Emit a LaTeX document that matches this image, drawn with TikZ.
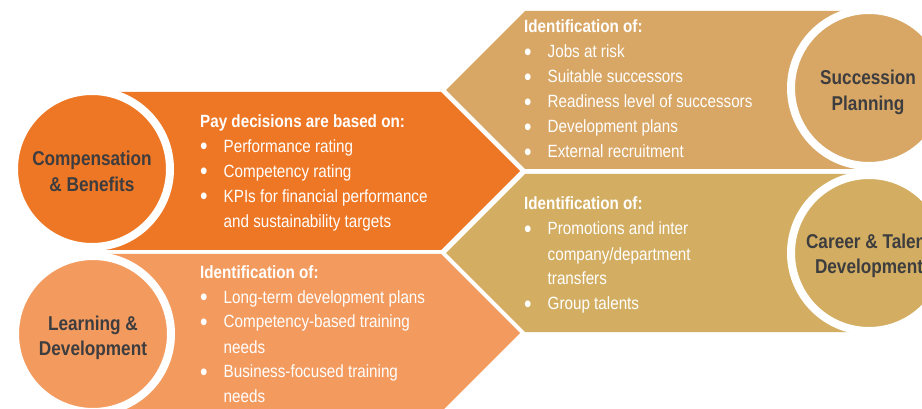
\documentclass[tikz,border=0pt]{standalone}
\usepackage{graphicx}
\usepackage{fontspec}
\setmainfont{Liberation Sans}[FakeStretch=0.86]
\definecolor{cbc}{HTML}{EE7725}
\definecolor{ldc}{HTML}{F39B5F}
\definecolor{spc}{HTML}{D9A765}
\definecolor{ctc}{HTML}{D3AE62}
\definecolor{lblc}{HTML}{3D3D3F}
\newcommand\blk[1]{\vtop{\baselineskip=25pt\lineskiplimit=-\maxdimen\lineskip=0pt #1}}
\newcommand\bl[1]{\hbox{\makebox[23.5pt][l]{\raisebox{-2.3pt}{\scalebox{1.4}{\textbullet}}}#1}}
\newcommand\cl[1]{\hbox{\hspace{23.5pt}#1}}
\newcommand\hd[1]{\hbox{\bfseries #1}}
\newcommand\ctr[2]{\vtop{\baselineskip=25.5pt\lineskiplimit=-\maxdimen\lineskip=0pt\hbox to 0pt{\hss#1\hss}\hbox to 0pt{\hss#2\hss}}}
\begin{document}
\begin{tikzpicture}[x=1pt,y=-1pt,
  ring/.style={circle, draw=white, line width=8pt, minimum size=156pt, inner sep=0pt},
  lbl/.style={anchor=base, inner sep=0pt, font=\fontsize{20}{25.5}\selectfont\bfseries, text=lblc},
  txt/.style={anchor=base west, inner sep=0pt, font=\fontsize{17.7}{25}\selectfont, text=white}]
\clip (0,0) rectangle (922,409);
\fill[white] (0,0) rectangle (922,409);
% arrow bands
\fill[cbc] (92,92) -- (441,92) -- (520,171) -- (441,250) -- (92,250) -- cycle;
\fill[ldc] (93,254) -- (441,254) -- (520,333) -- (441,412) -- (93,412) -- cycle;
\fill[spc] (869,11) -- (525,11) -- (446,90) -- (525,169) -- (869,169) -- cycle;
\fill[ctc] (869,174) -- (525,174) -- (446,253) -- (525,332) -- (869,332) -- cycle;
% circles
\node[ring, fill=cbc] (cbcirc) at (92,169) {};
\node[ring, fill=ldc] (ldcirc) at (93,334) {};
\node[ring, fill=spc] (spcirc) at (869,88) {};
\node[ring, fill=ctc] (ctcirc) at (869,253) {};
% circle labels
\node[lbl] (cbl) at (92,166) {\ctr{Compensation}{\& Benefits}};
\node[lbl] (ldl) at (93,330) {\ctr{Learning \&}{Development}};
\node[lbl] (spl) at (868,85) {\ctr{Succession}{Planning}};
\node[lbl] (ctl) at (869,248) {\ctr{Career \& Talent}{Development}};
% texts
\node[txt] (cbt) at (200,127.7) {\blk{\hd{Pay decisions are based on:}\bl{Performance rating}\bl{Competency rating}\bl{KPIs for financial performance}\cl{and sustainability targets}}};
\node[txt] (ldt) at (200,278) {\blk{\hd{Identification of:}\bl{Long-term development plans}\bl{Competency-based training}\cl{needs}\bl{Business-focused training}\cl{needs}}};
\node[txt] (spt) at (524,33) {\blk{\hd{Identification of:}\bl{Jobs at risk}\bl{Suitable successors}\bl{Readiness level of successors}\bl{Development plans}\bl{External recruitment}}};
\node[txt] (ctt) at (524,210) {\blk{\hd{Identification of:}\bl{Promotions and inter}\cl{company/department}\cl{transfers}\bl{Group talents}}};
\end{tikzpicture}
\end{document}
